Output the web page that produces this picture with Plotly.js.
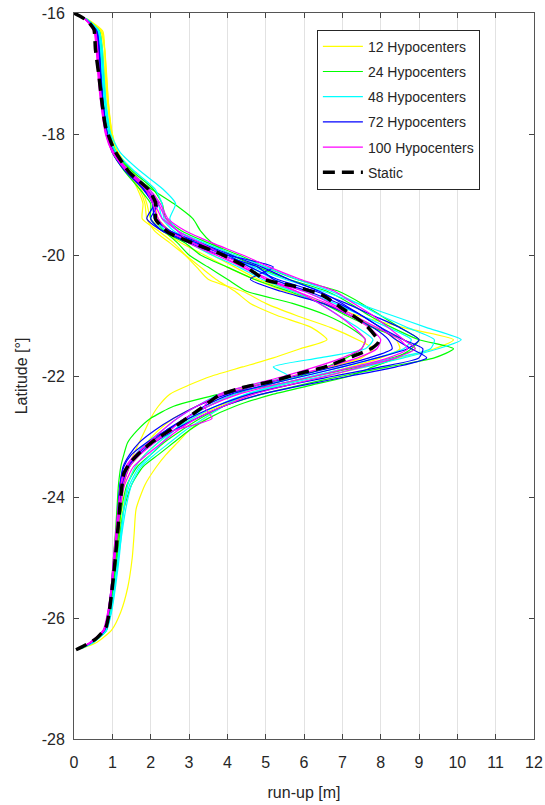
<!DOCTYPE html>
<html>
<head>
<meta charset="utf-8">
<script src="https://cdn.plot.ly/plotly-3.0.1.min.js"></script>
<style>html,body{margin:0;padding:0;background:#fff;}#plot{width:545px;height:805px;}</style>
</head>
<body>
<div id="plot"></div>
<script>
// Latitude grid shared by the simulated curves (degrees)
const lat = [-16.0,-16.1,-16.3,-16.6,-17.0,-17.5,-18.0,-18.3,-18.6,-18.9,-19.15,-19.4,-19.6,-19.8,-20.0,-20.2,-20.4,-20.6,-20.8,-21.0,-21.2,-21.4,-21.55,-21.7,-21.85,-22.0,-22.15,-22.3,-22.5,-22.7,-22.9,-23.1,-23.3,-23.5,-23.8,-24.2,-24.6,-25.0,-25.5,-25.9,-26.2,-26.4,-26.5];

// Run-up [m] for each realisation
const yellow1 = [null,0.35,0.75,0.8,0.82,0.88,0.97,1.12,1.45,1.75,1.9,2.0,2.3,2.8,3.4,4.0,4.7,5.5,6.5,7.4,8.6,9.9,9.4,8.5,7.6,6.6,5.6,4.6,3.8,3.1,2.6,2.2,1.85,1.6,1.4,1.28,1.2,1.14,1.05,0.96,0.82,0.5,0.2];
const yellow2 = [null,0.33,0.7,0.8,0.85,0.9,0.98,1.1,1.4,1.7,1.85,1.9,2.1,2.5,2.9,3.3,3.7,4.2,4.6,5.3,6.2,6.6,5.9,5.2,4.4,3.6,3.0,2.5,2.2,2.0,1.85,1.7,1.55,1.42,1.3,1.22,1.16,1.1,1.0,0.93,0.83,0.52,0.2];
const yellow3 = [null,0.3,0.68,0.75,0.8,0.88,1.0,1.15,1.5,1.9,2.1,2.2,2.5,3.0,3.6,4.2,4.8,5.7,6.5,7.2,7.9,8.4,8.5,8.0,7.2,6.3,5.4,4.6,3.9,3.4,3.0,2.7,2.4,2.15,1.85,1.62,1.57,1.52,1.4,1.22,0.98,0.6,0.22];
const yellow4 = [null,0.32,0.72,0.8,0.84,0.9,1.0,1.12,1.4,1.65,1.8,1.78,2.2,2.6,2.9,3.2,3.5,4.4,5.0,5.8,6.7,7.4,7.8,7.5,6.7,5.7,4.7,3.9,3.2,2.6,2.2,1.9,1.65,1.45,1.3,1.22,1.18,1.12,1.0,0.9,0.8,0.5,0.2];
const green1 = [null,0.32,0.62,0.7,0.72,0.78,0.9,1.08,1.45,2.0,2.6,3.1,3.3,3.6,4.1,4.8,5.6,6.6,7.2,7.7,8.3,9.0,9.9,9.4,8.2,7.0,5.9,4.9,3.9,3.3,2.8,2.35,2.0,1.65,1.38,1.24,1.16,1.1,1.02,0.95,0.85,0.5,0.2];
const green2 = [null,0.3,0.6,0.66,0.7,0.76,0.88,1.0,1.3,1.7,2.0,2.0,2.3,2.9,3.3,4.0,4.7,5.6,6.5,7.1,7.8,8.6,8.9,8.3,7.4,6.3,5.2,3.8,2.6,2.0,1.65,1.4,1.3,1.22,1.16,1.12,1.08,1.03,0.97,0.9,0.78,0.45,0.18];
const green3 = [null,0.31,0.65,0.72,0.76,0.82,0.92,1.06,1.4,1.85,2.05,2.1,2.35,2.7,3.0,3.5,4.0,4.5,5.7,6.6,7.2,7.6,7.5,7.1,6.6,5.9,5.0,4.2,3.5,2.9,2.45,2.05,1.72,1.45,1.28,1.2,1.15,1.09,1.01,0.93,0.82,0.48,0.2];
const green4 = [null,0.33,0.66,0.73,0.77,0.83,0.94,1.1,1.5,2.05,2.3,2.4,2.8,3.5,4.3,5.0,5.8,6.9,7.5,8.0,8.5,9.0,8.8,8.4,7.8,7.2,6.2,5.2,4.2,3.5,3.0,2.6,2.2,1.8,1.5,1.3,1.2,1.13,1.04,0.96,0.84,0.5,0.2];
const cyan1 = [null,0.33,0.66,0.74,0.78,0.84,0.96,1.2,1.7,2.3,2.65,2.5,2.7,3.3,4.0,4.7,5.5,6.5,7.4,8.3,9.2,10.1,9.5,8.6,7.6,6.5,5.4,4.5,3.7,3.1,2.6,2.2,1.85,1.6,1.4,1.3,1.22,1.15,1.05,0.96,0.84,0.5,0.2];
const cyan2 = [null,0.3,0.62,0.7,0.73,0.8,0.9,1.05,1.42,1.95,2.2,2.3,2.6,3.2,3.9,4.6,5.2,6.0,6.8,7.5,8.2,8.8,8.6,7.9,7.0,6.0,5.0,4.2,3.5,3.0,2.6,2.3,2.0,1.7,1.45,1.3,1.24,1.18,1.08,0.98,0.85,0.52,0.2];
const cyan3 = [null,0.31,0.6,0.68,0.72,0.78,0.88,1.02,1.35,1.8,2.05,2.1,2.4,3.0,3.6,4.3,4.9,5.7,6.4,6.9,7.4,7.8,7.6,6.4,5.2,5.6,4.6,3.8,3.2,2.7,2.3,1.9,1.6,1.38,1.25,1.18,1.12,1.06,0.98,0.9,0.8,0.46,0.18];
const cyan4 = [null,0.32,0.64,0.71,0.75,0.82,0.93,1.1,1.55,2.1,2.3,2.35,2.7,3.4,4.2,5.0,5.8,6.7,7.4,8.0,8.7,9.4,9.3,8.4,7.3,6.2,5.3,4.5,3.9,3.4,2.9,2.5,2.1,1.75,1.5,1.35,1.25,1.16,1.06,0.97,0.84,0.5,0.2];
const blue1 = [null,0.29,0.58,0.64,0.68,0.75,0.86,1.02,1.35,1.85,2.2,2.0,2.3,3.0,3.8,4.8,5.2,6.1,6.9,7.5,8.0,8.6,9.1,9.0,8.0,6.8,5.6,4.6,3.7,3.0,2.4,1.9,1.5,1.3,1.2,1.15,1.1,1.05,0.98,0.9,0.78,0.44,0.17];
const blue2 = [null,0.3,0.6,0.66,0.7,0.76,0.87,1.0,1.33,1.8,2.1,2.15,2.5,3.2,4.0,4.6,5.3,6.3,7.1,7.8,8.5,9.0,8.7,7.9,7.0,6.0,5.0,4.1,3.4,2.9,2.4,2.0,1.65,1.4,1.25,1.18,1.12,1.06,0.99,0.91,0.8,0.46,0.18];
const blue3 = [null,0.29,0.58,0.65,0.69,0.76,0.87,1.04,1.4,1.9,2.1,1.9,2.3,3.1,4.0,5.2,4.6,5.4,6.5,7.2,7.8,8.2,8.3,7.7,6.8,5.8,4.8,4.0,3.2,2.6,2.1,1.7,1.45,1.28,1.2,1.15,1.1,1.04,0.97,0.89,0.78,0.44,0.17];
const blue4 = [null,0.3,0.59,0.65,0.69,0.75,0.86,1.0,1.32,1.78,2.05,2.1,2.5,3.3,4.1,4.9,5.6,6.4,7.0,7.5,8.0,8.4,8.8,9.2,8.4,7.2,6.0,4.9,3.9,3.2,2.6,2.1,1.7,1.42,1.27,1.18,1.12,1.06,0.98,0.9,0.78,0.45,0.17];
const magenta1 = [0,0.28,0.52,0.58,0.62,0.7,0.82,1.0,1.35,1.85,2.05,2.2,2.45,3.1,3.8,4.4,5.0,6.0,6.7,7.3,7.9,8.5,8.7,8.2,7.3,6.3,5.2,4.3,3.5,2.9,2.5,2.1,1.72,1.45,1.28,1.2,1.12,1.06,0.98,0.9,0.78,0.44,0.17];
const magenta2 = [null,0.3,0.54,0.6,0.64,0.71,0.83,1.02,1.4,1.9,2.2,2.4,2.7,3.3,3.9,4.5,5.0,5.8,6.6,7.2,7.7,8.0,7.9,7.4,6.6,5.7,4.8,3.9,3.2,2.7,2.3,1.95,1.62,1.38,1.23,1.15,1.09,1.03,0.97,0.89,0.78,0.44,0.17];
const magenta3 = [null,0.3,0.55,0.61,0.65,0.72,0.84,1.0,1.36,1.88,2.1,2.3,2.7,3.0,3.7,4.4,5.1,5.8,6.4,6.9,7.3,7.6,7.5,7.0,6.3,5.5,4.6,3.8,3.4,3.6,2.6,2.0,1.6,1.35,1.22,1.16,1.1,1.04,0.97,0.88,0.76,0.42,0.16];
const magenta4 = [null,0.3,0.56,0.62,0.66,0.73,0.85,1.03,1.42,1.95,2.25,2.45,2.9,3.6,4.4,5.1,5.9,6.8,7.3,7.8,8.2,8.6,8.9,8.4,7.5,6.6,5.6,4.7,3.9,3.2,2.7,2.3,1.9,1.55,1.32,1.2,1.13,1.07,0.99,0.9,0.78,0.44,0.17];

// Static solution
const staticLat = [-16.0,-16.05,-16.13,-16.27,-16.6,-17.04,-17.48,-17.87,-18.25,-18.64,-18.92,-19.14,-19.41,-19.63,-19.80,-19.97,-20.19,-20.41,-20.52,-20.66,-20.88,-21.15,-21.43,-21.54,-21.68,-21.85,-21.96,-22.09,-22.18,-22.32,-22.54,-22.87,-23.09,-23.28,-23.42,-23.61,-24.0,-24.5,-25.0,-25.49,-25.94,-26.16,-26.35,-26.49,-26.54];
const staticRunup = [0.0,0.15,0.35,0.52,0.56,0.65,0.73,0.82,1.04,1.45,1.95,2.13,2.13,2.47,3.08,3.78,4.47,4.99,5.77,6.47,6.99,7.60,7.95,7.77,7.25,6.55,5.86,5.16,4.47,3.78,3.30,2.56,2.04,1.69,1.48,1.30,1.22,1.15,1.08,1.0,0.91,0.83,0.56,0.17,0.0];

const groupNames = ["12 Hypocenters","24 Hypocenters","48 Hypocenters","72 Hypocenters","100 Hypocenters"];
const groupSeries = [
  [yellow1,yellow2,yellow3,yellow4],
  [green1,green2,green3,green4],
  [cyan1,cyan2,cyan3,cyan4],
  [blue1,blue2,blue3,blue4],
  [magenta1,magenta2,magenta3,magenta4]
];
const staticName = "Static";

const xTickVals = [0,1,2,3,4,5,6,7,8,9,10,11,12];
const xTickText = ["0","1","2","3","4","5","6","7","8","9","10","11","12"];
const yTickVals = [-28,-26,-24,-22,-20,-18,-16];
const yTickText = ["-28","-26","-24","-22","-20","-18","-16"];

const colors = ["#ffff00","#00ff00","#00ffff","#0000ff","#ff00ff"];

const traces = [];
groupSeries.forEach((series, g) => {
  series.forEach((vals, k) => {
    traces.push({
      type: "scatter", mode: "lines",
      x: vals, y: lat,
      name: groupNames[g],
      legendgroup: "g" + g,
      showlegend: k === 0,
      line: {color: colors[g], width: 1.2, shape: "spline", smoothing: 0.6},
      hoverinfo: "skip"
    });
  });
});
traces.push({
  type: "scatter", mode: "lines",
  x: staticRunup, y: staticLat,
  name: staticName, legendgroup: "static",
  line: {color: "#000000", width: 3.5, dash: "12px,7px", shape: "spline", smoothing: 0.5},
  hoverinfo: "skip"
});

const font = "Liberation Sans, Arial, Helvetica, sans-serif";
const layout = {
  width: 545, height: 805,
  margin: {l: 74, r: 11, t: 13, b: 66, pad: 0},
  paper_bgcolor: "#ffffff", plot_bgcolor: "#ffffff",
  font: {family: font, color: "#262626", size: 16},
  showlegend: true,
  xaxis: {
    range: [0, 12], tickvals: xTickVals, ticktext: xTickText,
    showgrid: true, gridcolor: "#e2e2e2", gridwidth: 1,
    zeroline: false, showline: true, linecolor: "#555555", linewidth: 1,
    mirror: "allticks", ticks: "inside", ticklen: 5, tickcolor: "#444444",
    tickfont: {family: font, size: 16, color: "#262626"},
    ticklabelstandoff: 9,
    automargin: false,
    title: {text: "run-up [m]", font: {family: font, size: 16, color: "#262626"}, standoff: 16}
  },
  yaxis: {
    range: [-28, -16], tickvals: yTickVals, ticktext: yTickText,
    showgrid: false, zeroline: false, showline: true, linecolor: "#555555", linewidth: 1,
    mirror: "allticks", ticks: "inside", ticklen: 5, tickcolor: "#444444",
    tickfont: {family: font, size: 16, color: "#262626"},
    ticklabelstandoff: 5,
    automargin: false,
    title: {text: "Latitude [°]", font: {family: font, size: 16, color: "#262626"}, standoff: 10}
  },
  legend: {
    x: 0.528, y: 0.977, xanchor: "left", yanchor: "top",
    bgcolor: "#ffffff", bordercolor: "#262626", borderwidth: 1,
    font: {family: font, size: 14, color: "#262626"},
    tracegroupgap: 4, itemwidth: 40
  }
};

Plotly.newPlot("plot", traces, layout, {displayModeBar: false, staticPlot: true});
</script>
</body>
</html>
